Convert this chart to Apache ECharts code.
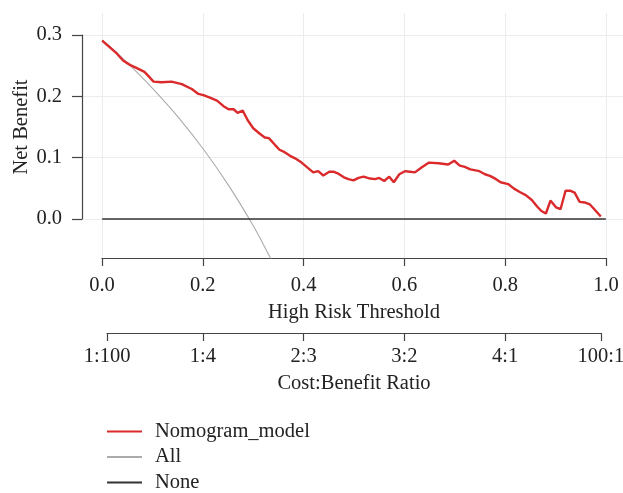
<!DOCTYPE html>
<html><head><meta charset="utf-8">
<script src="https://cdn.jsdelivr.net/npm/echarts@6/dist/echarts.min.js"></script>
<style>html,body{margin:0;padding:0;background:#fff}#c{width:623px;height:493px}</style>
</head><body><div id="c"></div>
<script>
// ---- data ----
const nomoThreshold = [0,0.029,0.042,0.056,0.069,0.084,0.092,0.102,0.118,0.138,0.158,0.178,0.191,0.201,0.214,0.228,0.241,0.251,0.261,0.269,0.279,0.289,0.300,0.313,0.323,0.331,0.343,0.352,0.360,0.373,0.383,0.396,0.406,0.419,0.429,0.439,0.451,0.460,0.469,0.480,0.489,0.499,0.509,0.519,0.532,0.542,0.550,0.560,0.570,0.579,0.590,0.601,0.611,0.621,0.634,0.649,0.668,0.687,0.699,0.710,0.720,0.731,0.749,0.760,0.771,0.782,0.791,0.806,0.817,0.829,0.841,0.853,0.864,0.872,0.881,0.890,0.901,0.910,0.920,0.930,0.938,0.948,0.958,0.968,0.978,0.990];
const nomoBenefit = [0.291,0.270,0.258,0.251,0.246,0.240,0.233,0.224,0.223,0.224,0.220,0.212,0.204,0.202,0.198,0.193,0.184,0.179,0.179,0.173,0.177,0.161,0.148,0.139,0.133,0.132,0.121,0.113,0.110,0.103,0.099,0.092,0.085,0.076,0.078,0.071,0.077,0.077,0.074,0.068,0.065,0.063,0.067,0.069,0.066,0.065,0.067,0.062,0.069,0.060,0.073,0.078,0.077,0.076,0.084,0.092,0.091,0.089,0.095,0.087,0.085,0.081,0.078,0.073,0.070,0.065,0.060,0.057,0.050,0.044,0.039,0.031,0.020,0.013,0.009,0.030,0.019,0.016,0.046,0.046,0.043,0.028,0.027,0.024,0.015,0.004];
const allThreshold = [0,0.02,0.05,0.1,0.15,0.2,0.25,0.3,0.33,0.34];
const allBenefit = [0.292,0.278,0.255,0.213,0.167,0.115,0.056,-0.011,-0.057,-0.073];
const noneThreshold = [0,1];
const noneBenefit = [0,0];
const xTicks = [0,0.2,0.4,0.6,0.8,1.0];
const yTicks = [0,0.1,0.2,0.3];
const costTicks = [0.01,0.2,0.4,0.6,0.8,0.99];
const costLabels = ['1:100','1:4','2:3','3:2','4:1','100:1'];
const seriesNames = ['Nomogram_model','All','None'];

const zip = (a,b)=>a.map((v,i)=>[v,b[i]]);
const FONT = 'Liberation Serif';
const FS = 20.5;
const TXT = '#222';
const AX = '#444';

const chart = echarts.init(document.getElementById('c'), null, {renderer:'canvas'});
chart.setOption({
  backgroundColor:'#fff',
  animation:false,
  textStyle:{fontFamily:FONT},
  grid:[
    {left:82, top:13, width:544, height:245, outerBoundsMode:'none', containLabel:false},
    {left:82, top:35, width:10, height:184, outerBoundsMode:'none', containLabel:false},
    {left:102, top:200, width:504, height:58, outerBoundsMode:'none', containLabel:false},
    {left:107.04, top:280, width:493.92, height:53, outerBoundsMode:'none', containLabel:false}
  ],
  xAxis:[
    {gridIndex:0, type:'value', min:-0.04, max:1.04,
      axisLine:{show:false}, axisLabel:{show:false},
      axisTick:{show:false, customValues:xTicks},
      splitLine:{show:true, lineStyle:{color:'#ececec', width:1}}},
    {gridIndex:1, type:'value', min:0, max:1, show:false},
    {gridIndex:2, type:'value', min:0, max:1, interval:0.2, position:'bottom',
      axisLine:{show:true, lineStyle:{color:AX, width:1.2}},
      axisTick:{show:true, inside:false, length:8, lineStyle:{color:AX, width:1.2}, customValues:xTicks},
      axisLabel:{show:true, margin:17, color:TXT, fontFamily:FONT, fontSize:FS, customValues:xTicks,
        showMinLabel:true, showMaxLabel:true, formatter:v=>v.toFixed(1)},
      splitLine:{show:false},
      name:'High Risk Threshold', nameLocation:'middle', nameGap:44,
      nameTextStyle:{color:TXT, fontFamily:FONT, fontSize:FS}},
    {gridIndex:3, type:'value', min:0.01, max:0.99, position:'bottom',
      axisLine:{show:true, lineStyle:{color:AX, width:1.2}},
      axisTick:{show:true, inside:false, length:8, lineStyle:{color:AX, width:1.2}, customValues:costTicks},
      axisLabel:{show:true, margin:13, color:TXT, fontFamily:FONT, fontSize:FS, customValues:costTicks,
        showMinLabel:true, showMaxLabel:true,
        formatter:v=>{const i=costTicks.findIndex(t=>Math.abs(t-v)<1e-6);return i>=0?costLabels[i]:'';}},
      splitLine:{show:false},
      name:'Cost:Benefit Ratio', nameLocation:'middle', nameGap:40,
      nameTextStyle:{color:TXT, fontFamily:FONT, fontSize:FS}}
  ],
  yAxis:[
    {gridIndex:0, type:'value', min:-0.0636, max:0.336,
      axisLine:{show:false}, axisLabel:{show:false},
      axisTick:{show:false, customValues:yTicks},
      splitLine:{show:true, lineStyle:{color:'#ececec', width:1}}},
    {gridIndex:1, type:'value', min:0, max:0.3, interval:0.1, position:'left',
      axisLine:{show:true, lineStyle:{color:AX, width:1.2}},
      axisTick:{show:true, inside:false, length:10, lineStyle:{color:AX, width:1.2}},
      axisLabel:{show:true, margin:20, color:TXT, fontFamily:FONT, fontSize:FS,
        showMinLabel:true, showMaxLabel:true, formatter:v=>v.toFixed(1)},
      splitLine:{show:false},
      name:'Net Benefit', nameLocation:'middle', nameGap:50, nameRotate:90,
      nameTextStyle:{color:TXT, fontFamily:FONT, fontSize:FS}},
    {gridIndex:2, type:'value', show:false},
    {gridIndex:3, type:'value', show:false}
  ],
  legend:{
    orient:'vertical', left:107, top:421, height:90, padding:0,
    itemWidth:35, itemHeight:2, itemGap:4.5,
    textStyle:{color:TXT, fontFamily:FONT, fontSize:FS, padding:[0,0,0,8]},
    data:[
      {name:seriesNames[0], icon:'rect'},
      {name:seriesNames[1], icon:'rect'},
      {name:seriesNames[2], icon:'rect'}
    ]
  },
  series:[
    {name:seriesNames[1], type:'line', xAxisIndex:0, yAxisIndex:0, data:zip(allThreshold, allBenefit),
      smooth:0.3, showSymbol:false, symbol:'none', clip:true, z:2,
      color:'#ababab', lineStyle:{color:'#ababab', width:1.1}},
    {name:seriesNames[2], type:'line', xAxisIndex:0, yAxisIndex:0, data:zip(noneThreshold, noneBenefit),
      showSymbol:false, symbol:'none', z:3,
      color:'#333', lineStyle:{color:'#333', width:1.3}},
    {name:seriesNames[0], type:'line', xAxisIndex:0, yAxisIndex:0, data:zip(nomoThreshold, nomoBenefit),
      showSymbol:false, symbol:'none', z:4,
      color:'#db2a2c', lineStyle:{color:'#db2a2c', width:2.4}}
  ]
});
</script></body></html>
